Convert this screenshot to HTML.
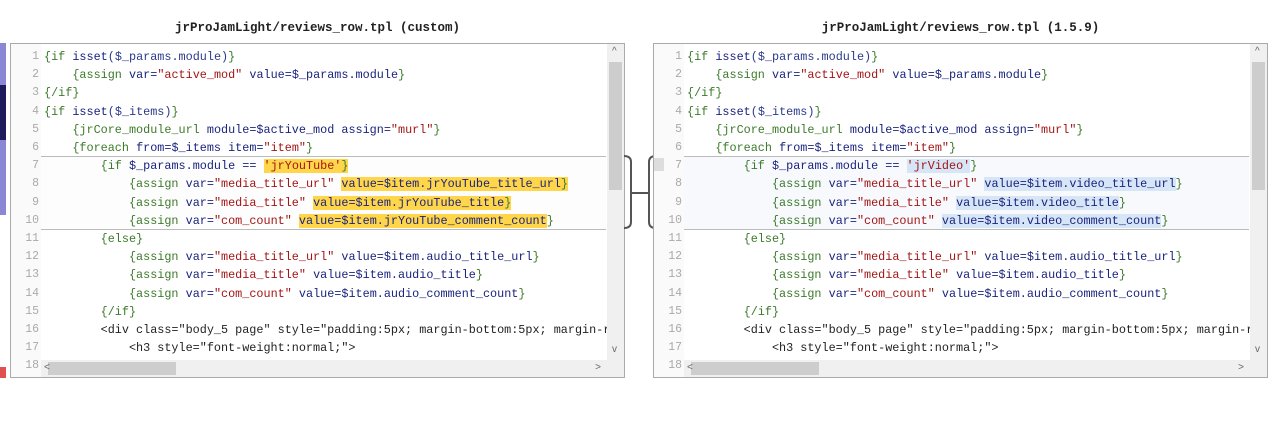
<!DOCTYPE html>
<html><head><meta charset="utf-8"><style>
*{margin:0;padding:0;box-sizing:border-box}
body{width:1280px;height:432px;background:#fff;position:relative;overflow:hidden;font-family:"Liberation Mono",monospace}
.title{position:absolute;top:21px;font:bold 12.5px "Liberation Mono",monospace;color:#222;text-align:center;width:615px}
.panel{position:absolute;top:43px;width:615px;height:335px;border:1px solid #aaa;background:#fff;overflow:hidden}
.gut{position:absolute;left:0;top:0;width:30px;height:100%;background:#fafafa}
.ln{position:absolute;left:0;width:28px;text-align:right;font-size:11.5px;color:#aaa;line-height:18.2px}
.code{position:absolute;left:33px;font-size:11.8px;line-height:18.2px;white-space:pre;color:#222}
.band{position:absolute;left:30px;right:18px;top:112px;height:74px;border-top:1px solid #bbb;border-bottom:1px solid #bbb;background:#fdfdfd}
.g{color:#3b7a2a}.n{color:#1a237e}.r{color:#a31515}.b{color:#2a3a8a}
.y{background:#ffd54a}.lb{background:#d6e6f7}
.vs{position:absolute;right:0;top:0;width:17px;height:100%;background:#f0f0f0}
.th{position:absolute;right:2px;top:18px;width:13px;height:128px;background:#cdcdcd}
.hs{position:absolute;left:30px;right:17px;bottom:0;height:17px;background:#f0f0f0}
.hth{position:absolute;left:7px;top:2px;width:128px;height:13px;background:#cdcdcd}
.ar{position:absolute;font-size:10px;color:#666;font-family:"Liberation Sans",sans-serif}
</style></head><body>
<div class="title" style="left:10px">jrProJamLight/reviews_row.tpl (custom)</div>
<div class="title" style="left:653px">jrProJamLight/reviews_row.tpl (1.5.9)</div>
<div style="position:absolute;left:0;top:43px;width:6px;height:172px;background:#8a87d6"></div>
<div style="position:absolute;left:0;top:85px;width:6px;height:55px;background:#1e1a5c"></div>
<div style="position:absolute;left:0;top:367px;width:6px;height:11px;background:#e05050"></div>

<div class="panel" style="left:10px">
<div class="gut"></div><div class="band"></div>
<div class="ln" style="top:4px">1<br>2<br>3<br>4<br>5<br>6<br>7<br>8<br>9<br>10<br>11<br>12<br>13<br>14<br>15<br>16<br>17<br>18</div>
<div class="code" style="top:4px"><span class="g">{if</span> <span class="n">isset</span><span class="b">($_params.module)</span><span class="g">}</span>
    <span class="g">{assign</span> <span class="n">var=</span><span class="r">"active_mod"</span> <span class="n">value=$_params.module</span><span class="g">}</span>
<span class="g">{/if}</span>
<span class="g">{if</span> <span class="n">isset</span><span class="b">($_items)</span><span class="g">}</span>
    <span class="g">{jrCore_module_url</span> <span class="n">module=$active_mod assign=</span><span class="r">"murl"</span><span class="g">}</span>
    <span class="g">{foreach</span> <span class="n">from=$_items item=</span><span class="r">"item"</span><span class="g">}</span>
        <span class="g">{if</span> <span class="n">$_params.module ==</span> <span class="r y">'jrYouTube'</span><span class="g y">}</span>
            <span class="g">{assign</span> <span class="n">var=</span><span class="r">"media_title_url"</span> <span class="n y">value=$item.jrYouTube_title_url</span><span class="g y">}</span>
            <span class="g">{assign</span> <span class="n">var=</span><span class="r">"media_title"</span> <span class="n y">value=$item.jrYouTube_title</span><span class="g y">}</span>
            <span class="g">{assign</span> <span class="n">var=</span><span class="r">"com_count"</span> <span class="n y">value=$item.jrYouTube_comment_count</span><span class="g">}</span>
        <span class="g">{else}</span>
            <span class="g">{assign</span> <span class="n">var=</span><span class="r">"media_title_url"</span> <span class="n">value=$item.audio_title_url</span><span class="g">}</span>
            <span class="g">{assign</span> <span class="n">var=</span><span class="r">"media_title"</span> <span class="n">value=$item.audio_title</span><span class="g">}</span>
            <span class="g">{assign</span> <span class="n">var=</span><span class="r">"com_count"</span> <span class="n">value=$item.audio_comment_count</span><span class="g">}</span>
        <span class="g">{/if}</span>
        &lt;div class="body_5 page" style="padding:5px; margin-bottom:5px; margin-r
            &lt;h3 style="font-weight:normal;"&gt;
</div>
<div class="vs"><div class="th"></div><span class="ar" style="left:5px;top:2px">^</span><span class="ar" style="left:5px;top:300px">v</span></div>
<div class="hs"><div class="hth"></div><span class="ar" style="left:3px;top:2px">&lt;</span><span class="ar" style="right:6px;top:2px">&gt;</span></div>
</div>

<svg style="position:absolute;left:620px;top:150px" width="40" height="85">
<path d="M4 6 Q11 6 11 12 L11 72 Q11 78 4 78" fill="none" stroke="#555" stroke-width="2"/>
<path d="M36 6 Q29 6 29 12 L29 72 Q29 78 36 78" fill="none" stroke="#555" stroke-width="2"/>
<line x1="11" y1="43" x2="29" y2="43" stroke="#555" stroke-width="2"/>
</svg>

<div class="panel" style="left:653px">
<div class="gut"></div><div class="band" style="background:#f7f9fc"></div>
<div style="position:absolute;left:0;top:114px;width:10px;height:13px;background:#ddd"></div>
<div class="ln" style="top:4px">1<br>2<br>3<br>4<br>5<br>6<br>7<br>8<br>9<br>10<br>11<br>12<br>13<br>14<br>15<br>16<br>17<br>18</div>
<div class="code" style="top:4px"><span class="g">{if</span> <span class="n">isset</span><span class="b">($_params.module)</span><span class="g">}</span>
    <span class="g">{assign</span> <span class="n">var=</span><span class="r">"active_mod"</span> <span class="n">value=$_params.module</span><span class="g">}</span>
<span class="g">{/if}</span>
<span class="g">{if</span> <span class="n">isset</span><span class="b">($_items)</span><span class="g">}</span>
    <span class="g">{jrCore_module_url</span> <span class="n">module=$active_mod assign=</span><span class="r">"murl"</span><span class="g">}</span>
    <span class="g">{foreach</span> <span class="n">from=$_items item=</span><span class="r">"item"</span><span class="g">}</span>
        <span class="g">{if</span> <span class="n">$_params.module ==</span> <span class="r lb">'jrVideo'</span><span class="g">}</span>
            <span class="g">{assign</span> <span class="n">var=</span><span class="r">"media_title_url"</span> <span class="n lb">value=$item.video_title_url</span><span class="g">}</span>
            <span class="g">{assign</span> <span class="n">var=</span><span class="r">"media_title"</span> <span class="n lb">value=$item.video_title</span><span class="g">}</span>
            <span class="g">{assign</span> <span class="n">var=</span><span class="r">"com_count"</span> <span class="n lb">value=$item.video_comment_count</span><span class="g">}</span>
        <span class="g">{else}</span>
            <span class="g">{assign</span> <span class="n">var=</span><span class="r">"media_title_url"</span> <span class="n">value=$item.audio_title_url</span><span class="g">}</span>
            <span class="g">{assign</span> <span class="n">var=</span><span class="r">"media_title"</span> <span class="n">value=$item.audio_title</span><span class="g">}</span>
            <span class="g">{assign</span> <span class="n">var=</span><span class="r">"com_count"</span> <span class="n">value=$item.audio_comment_count</span><span class="g">}</span>
        <span class="g">{/if}</span>
        &lt;div class="body_5 page" style="padding:5px; margin-bottom:5px; margin-r
            &lt;h3 style="font-weight:normal;"&gt;
</div>
<div class="vs"><div class="th"></div><span class="ar" style="left:5px;top:2px">^</span><span class="ar" style="left:5px;top:300px">v</span></div>
<div class="hs"><div class="hth"></div><span class="ar" style="left:3px;top:2px">&lt;</span><span class="ar" style="right:6px;top:2px">&gt;</span></div>
</div>
</body></html>
